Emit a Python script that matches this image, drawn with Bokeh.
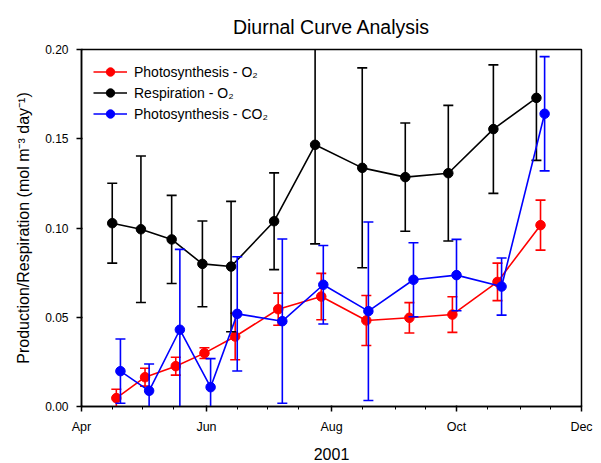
import pandas as pd
from bokeh.plotting import figure
from bokeh.models import (Range1d, FixedTicker, NumeralTickFormatter, Legend,
                          LegendItem, ColumnDataSource)
from bokeh.embed import file_html
from bokeh.resources import INLINE

# Sampling dates (2001) and mean rates with error bar half-widths (mol m-3 day-1)
photo_o2_dates = ["2001-04-18", "2001-05-02", "2001-05-17", "2001-05-31", "2001-06-15",
                  "2001-07-06", "2001-07-27", "2001-08-18", "2001-09-08", "2001-09-29",
                  "2001-10-21", "2001-11-11"]
photo_o2 = [0.0047, 0.0164, 0.0226, 0.0299, 0.0392, 0.0545, 0.0616, 0.0482, 0.0497,
            0.0515, 0.0698, 0.1016]
photo_o2_err = [0.005, 0.005, 0.005, 0.003, 0.013, 0.009, 0.013, 0.014, 0.0085,
                0.010, 0.0105, 0.014]

resp_o2_dates = ["2001-04-16", "2001-04-30", "2001-05-15", "2001-05-30", "2001-06-13",
                 "2001-07-04", "2001-07-24", "2001-08-16", "2001-09-06", "2001-09-27",
                 "2001-10-19", "2001-11-09"]
resp_o2 = [0.1027, 0.0993, 0.0936, 0.0799, 0.0784, 0.1038, 0.1466, 0.1337, 0.1285,
           0.1307, 0.1554, 0.1729]
resp_o2_err = [0.0224, 0.041, 0.0247, 0.024, 0.0365, 0.0271, 0.0555, 0.056, 0.0303,
               0.038, 0.036, 0.035]

photo_co2_dates = ["2001-04-20", "2001-05-04", "2001-05-19", "2001-06-03", "2001-06-16",
                   "2001-07-08", "2001-07-28", "2001-08-19", "2001-09-10", "2001-10-01",
                   "2001-10-23", "2001-11-13"]
photo_co2 = [0.0198, 0.0088, 0.0430, 0.0108, 0.0519, 0.0478, 0.0682, 0.0534, 0.0710,
             0.0736, 0.0672, 0.1640]
photo_co2_err = [0.018, 0.015, 0.045, 0.016, 0.032, 0.046, 0.022, 0.050, 0.0207,
                 0.020, 0.016, 0.032]

series_labels = ["Photosynthesis - O\u2082", "Respiration - O\u2082",
                 "Photosynthesis - CO\u2082"]
series_colors = ["#ff0000", "#000000", "#0000ff"]

month_ticks = ["2001-04-01", "2001-06-01", "2001-08-01", "2001-10-01", "2001-12-01"]
month_labels = ["Apr", "Jun", "Aug", "Oct", "Dec"]
y_ticks = [0.0, 0.05, 0.10, 0.15, 0.20]

FONT = "Liberation Sans"


def doy(dates):
    return [int(d) for d in pd.to_datetime(dates).dayofyear]


major_x = doy(month_ticks)
minor_dates = []
for m in range(4, 12):
    minor_dates += [f"2001-{m:02d}-01", f"2001-{m:02d}-16"]
minor_dates.append("2001-12-01")
minor_x = doy(minor_dates)

p = figure(width=601, height=463, output_backend="svg", toolbar_location=None,
           x_range=Range1d(major_x[0], major_x[-1]), y_range=Range1d(0, 0.2),
           min_border_left=81, min_border_right=20, min_border_top=49,
           min_border_bottom=57)

p.title.text = "Diurnal Curve Analysis"
p.title.align = "center"
p.title.text_font = FONT
p.title.text_font_size = "19.5px"
p.title.text_font_style = "normal"
p.title.text_color = "#000000"
p.title.standoff = 23

p.xgrid.visible = False
p.ygrid.visible = False
p.outline_line_color = "black"
p.outline_line_width = 1.5

xa = p.xaxis[0]
xa.ticker = FixedTicker(ticks=major_x, minor_ticks=minor_x)
xa.major_label_overrides = {t: lab for t, lab in zip(major_x, month_labels)}
xa.axis_label = "2001"

ya = p.yaxis[0]
ya.ticker = FixedTicker(ticks=y_ticks)
ya.formatter = NumeralTickFormatter(format="0.00")
ya.axis_label = "Production/Respiration (mol m\u207b\u00b3 day\u207b\u00b9)"
ya.minor_tick_line_color = None

for ax in (xa, ya):
    ax.axis_line_width = 1.5
    ax.major_tick_line_width = 1.5
    ax.major_tick_out = 5
    ax.major_tick_in = 1
    ax.minor_tick_out = 3
    ax.minor_tick_in = 0
    ax.major_label_text_font = FONT
    ax.major_label_text_color = "#000000"
    ax.axis_label_text_font = FONT
    ax.axis_label_text_font_size = "16px"
    ax.axis_label_text_font_style = "normal"
    ax.axis_label_text_color = "#000000"

xa.major_label_text_font_size = "12.5px"
ya.major_label_text_font_size = "12px"
xa.major_label_standoff = 8
xa.axis_label_standoff = 11
ya.major_label_standoff = 8
ya.axis_label_standoff = 10

series = [
    (photo_o2_dates, photo_o2, photo_o2_err),
    (resp_o2_dates, resp_o2, resp_o2_err),
    (photo_co2_dates, photo_co2, photo_co2_err),
]

items = []
for (dates, vals, errs), label, color in zip(series, series_labels, series_colors):
    x = doy(dates)
    src = ColumnDataSource(dict(
        x=x, y=vals,
        lo=[v - e for v, e in zip(vals, errs)],
        hi=[v + e for v, e in zip(vals, errs)],
    ))
    # error bars: vertical stems with flat caps, clipped to the frame
    p.segment(x0="x", y0="lo", x1="x", y1="hi", source=src, line_color=color,
              line_width=1.6)
    p.scatter(x="x", y="hi", source=src, marker="dash", size=10, line_color=color,
              line_width=1.6)
    p.scatter(x="x", y="lo", source=src, marker="dash", size=10, line_color=color,
              line_width=1.6)
    ln = p.line(x="x", y="y", source=src, line_color=color, line_width=1.6)
    dots = p.scatter(x="x", y="y", source=src, marker="circle", size=9.5,
                     fill_color=color, line_color=color)
    items.append(LegendItem(label=label, renderers=[ln, dots]))

legend = Legend(items=items, location="top_left", margin=12, padding=0, spacing=0,
                label_height=21, glyph_height=21, glyph_width=34, label_standoff=7,
                label_text_font=FONT, label_text_font_size="14px",
                label_text_color="#000000", border_line_color=None,
                background_fill_alpha=0)
p.add_layout(legend, "center")

open("out.html", "w").write(file_html(p, INLINE))
